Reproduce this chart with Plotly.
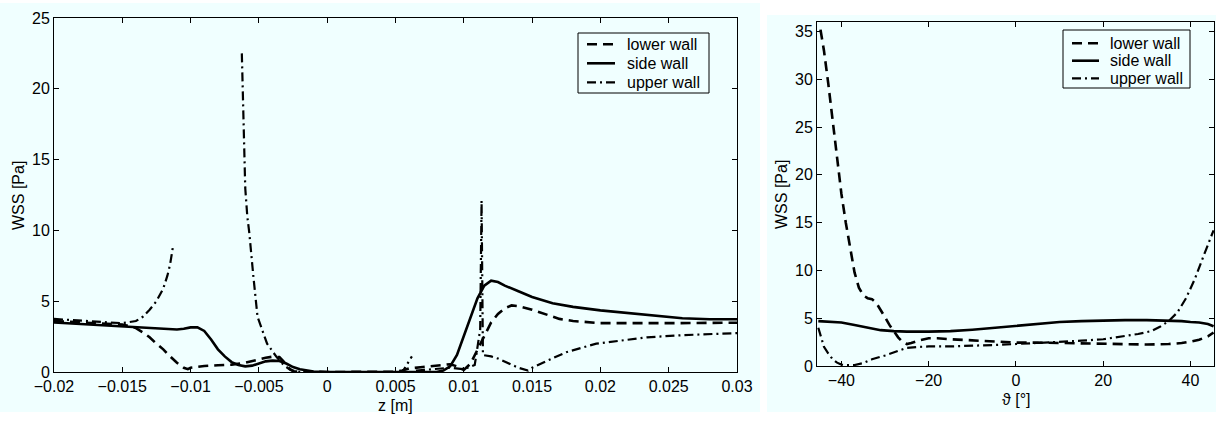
import plotly.graph_objects as go

# ---------------- left panel: WSS along z ----------------
z_lower = [-0.02, -0.018, -0.016, -0.015, -0.0145, -0.014, -0.0135, -0.013, -0.0125, -0.012,
           -0.0115, -0.011, -0.0105, -0.0102, -0.01, -0.0095, -0.009, -0.008, -0.007, -0.006,
           -0.0055, -0.005, -0.0045, -0.004, -0.0035, -0.0032, -0.0029, -0.0025, -0.002, 0.0,
           0.005, 0.0055, 0.006, 0.007, 0.008, 0.009, 0.0095, 0.01, 0.0105, 0.011, 0.0115,
           0.012, 0.0125, 0.013, 0.0135, 0.014, 0.015, 0.016, 0.017, 0.018, 0.019, 0.02,
           0.025, 0.03]
v_lower = [3.6, 3.5, 3.4, 3.35, 3.25, 3.1, 2.8, 2.45, 2.0, 1.6,
           1.1, 0.65, 0.3, 0.2, 0.3, 0.38, 0.42, 0.48, 0.52, 0.65,
           0.78, 0.9, 1.0, 1.08, 1.05, 0.75, 0.35, 0.05, 0.02, 0.0,
           0.02, 0.1, 0.25, 0.35, 0.45, 0.55, 0.4, 0.15, 0.6, 1.6, 2.6,
           3.5, 4.1, 4.5, 4.7, 4.65, 4.4, 4.05, 3.75, 3.6, 3.5, 3.45,
           3.45, 3.48]

z_side = [-0.02, -0.018, -0.016, -0.014, -0.012, -0.011, -0.0105, -0.01, -0.0095, -0.009,
          -0.0085, -0.008, -0.0075, -0.007, -0.0065, -0.006, -0.0055, -0.005, -0.0045, -0.004,
          -0.0035, -0.003, -0.0025, -0.002, -0.0015, -0.001, 0.0, 0.008, 0.0085, 0.009,
          0.0095, 0.01, 0.0105, 0.011, 0.0115, 0.012, 0.0125, 0.013, 0.014, 0.015,
          0.0165, 0.018, 0.02, 0.022, 0.024, 0.026, 0.028, 0.03]
v_side = [3.5, 3.4, 3.3, 3.2, 3.1, 3.0, 3.05, 3.15, 3.15, 2.9,
          2.3, 1.6, 1.1, 0.7, 0.5, 0.4, 0.45, 0.6, 0.75, 0.8,
          0.78, 0.6, 0.35, 0.2, 0.1, 0.04, 0.0, 0.0, 0.1, 0.4,
          1.2, 2.5, 3.9, 5.2, 6.1, 6.45, 6.35, 6.1, 5.7, 5.3,
          4.85, 4.6, 4.35, 4.15, 3.95, 3.8, 3.72, 3.72]

z_upper = [-0.02, -0.018, -0.016, -0.015, -0.0145, -0.014, -0.0135, -0.013, -0.0125, -0.012,
           -0.0117, -0.0115, -0.0113, None,
           -0.00625, -0.006, -0.00585, -0.0057, -0.0054, -0.0051, -0.0044, -0.0037, -0.0032,
           -0.0027, -0.002, 0.0055, 0.0062, None,
           0.0065, 0.008, 0.009, 0.01, 0.0108, 0.0112, 0.0113, 0.0114, 0.012, 0.0125,
           0.013, 0.0135, 0.014, 0.0147, 0.015, 0.016, 0.0175, 0.0197, 0.022, 0.0234,
           0.026, 0.028, 0.03]
v_upper = [3.75, 3.6, 3.5, 3.45, 3.5, 3.6, 3.9, 4.4, 5.0, 5.9,
           6.8, 7.6, 8.8, None,
           22.5, 13.0, 11.0, 9.8, 6.7, 3.9, 2.0, 1.05, 0.5,
           0.15, 0.0, 0.0, 1.1, None,
           0.1, 0.2, 0.3, 0.2, 0.5, 3.0, 12.1, 1.2, 1.1, 0.95,
           0.75, 0.55, 0.3, 0.1, 0.3, 0.75, 1.4, 2.0, 2.3, 2.45,
           2.6, 2.7, 2.75]

# ---------------- right panel: WSS along theta ----------------
t_lower = [-44.8, -44, -43, -42, -41, -40, -39, -38, -37, -36, -35, -34, -33, -32, -31, -30,
           -29, -28, -27, -26, -25, -24, -22, -20, -18, -15, -10, -5, 0, 5, 10, 15, 20, 25,
           30, 35, 38, 40, 42, 44, 45.3]
v2_lower = [35.2, 33.0, 29.5, 25.5, 21.5, 18.0, 15.0, 12.2, 9.8, 8.2, 7.4, 7.1, 7.0, 6.6, 5.9, 5.1,
            4.3, 3.6, 3.0, 2.5, 2.3, 2.4, 2.7, 2.9, 2.9, 2.8, 2.7, 2.55, 2.45, 2.45, 2.4, 2.35, 2.3, 2.25,
            2.25, 2.3, 2.4, 2.55, 2.75, 3.1, 3.5]

t_side = [-45.3, -42, -40, -37, -34, -31, -28, -25, -20, -15, -10, -5, 0, 5, 10, 15, 20, 25,
          30, 35, 38, 40, 42, 44, 45.3]
v2_side = [4.7, 4.65, 4.55, 4.3, 4.0, 3.75, 3.65, 3.6, 3.6, 3.65, 3.8, 4.0, 4.25, 4.45, 4.6, 4.7, 4.78, 4.8,
           4.8, 4.78, 4.7, 4.6, 4.55, 4.4, 4.15]

t_upper = [-45.3, -44.5, -44, -43, -42, -41, -40, -39, -37, -35, -33, -30, -27, -25, -22, -20, -15,
           -10, -5, 0, 5, 10, 15, 20, 25, 28, 31, 33, 35, 37, 39, 41, 43, 45.3]
v2_upper = [4.0, 2.6, 2.0, 1.3, 0.7, 0.35, 0.15, 0.1, 0.1, 0.3, 0.7, 1.1, 1.6, 1.9, 2.0, 2.05, 2.05,
            2.1, 2.2, 2.3, 2.4, 2.5, 2.65, 2.8, 3.1, 3.35, 3.65, 4.1, 4.7, 5.6, 7.1, 9.1, 11.5, 14.2]

names = ["lower wall", "side wall", "upper wall"]

W, H = 1216, 421
BG = "#F0FFFF"
FONT = "Liberation Sans, Arial, sans-serif"
FS = 16

fig = go.Figure()

dash_styles = ["10px,6px", "solid", "9px,4px,2px,4px"]
widths = [2.6, 2.6, 2.2]

left_x = [z_lower, z_side, z_upper]
left_y = [v_lower, v_side, v_upper]
for i in range(3):
    fig.add_trace(go.Scatter(x=left_x[i], y=left_y[i], mode="lines", name=names[i],
                             line=dict(color="black", width=widths[i], dash=dash_styles[i]),
                             xaxis="x", yaxis="y", showlegend=False, connectgaps=False))

right_x = [t_lower, t_side, t_upper]
right_y = [v2_lower, v2_side, v2_upper]
for i in range(3):
    fig.add_trace(go.Scatter(x=right_x[i], y=right_y[i], mode="lines", name=names[i],
                             line=dict(color="black", width=widths[i], dash=dash_styles[i]),
                             xaxis="x2", yaxis="y2", showlegend=False))

def px_x(p):
    return p / W

def px_y(p):
    return 1 - p / H

axis_common = dict(showline=True, linecolor="black", linewidth=1, mirror="ticks",
                   ticks="inside", ticklen=5, tickcolor="black", showgrid=False, zeroline=False,
                   tickfont=dict(family=FONT, size=FS, color="black"), automargin=False)

shapes = [
    dict(type="rect", xref="paper", yref="paper", x0=0, x1=px_x(760), y0=px_y(412), y1=px_y(3),
         fillcolor=BG, line=dict(width=0), layer="below"),
    dict(type="rect", xref="paper", yref="paper", x0=px_x(767), x1=1, y0=px_y(412), y1=px_y(15),
         fillcolor=BG, line=dict(width=0), layer="below"),
]
annotations = [
    dict(text="z [m]", x=px_x(395), y=px_y(405)),
    dict(text="WSS [Pa]", x=px_x(18), y=px_y(196), textangle=-90),
    dict(text="\u03d1 [\u00b0]", x=px_x(1016), y=px_y(399)),
    dict(text="WSS [Pa]", x=px_x(781), y=px_y(195), textangle=-90),
]

# hand-built legend boxes (box, sample x-range, text x, row y's)
legend_specs = [
    dict(box=(578, 709, 33, 93), sx=(587, 615), tx=625, rows=(44.3, 63.3, 82.3)),
    dict(box=(1063, 1190, 30, 88), sx=(1072, 1099), tx=1108, rows=(43.3, 60.7, 78.3)),
]
for spec in legend_specs:
    bx0, bx1, by0, by1 = spec["box"]
    shapes.append(dict(type="rect", xref="paper", yref="paper", x0=px_x(bx0), x1=px_x(bx1),
                       y0=px_y(by1), y1=px_y(by0), fillcolor=BG, line=dict(color="black", width=1),
                       layer="above"))
    for i, ry in enumerate(spec["rows"]):
        shapes.append(dict(type="line", xref="paper", yref="paper", x0=px_x(spec["sx"][0]),
                           x1=px_x(spec["sx"][1]), y0=px_y(ry), y1=px_y(ry), layer="above",
                           line=dict(color="black", width=widths[i], dash=dash_styles[i])))
        annotations.append(dict(text=names[i], x=px_x(spec["tx"]), y=px_y(ry), xanchor="left"))

for a in annotations:
    a.setdefault("xanchor", "center")
    a.update(xref="paper", yref="paper", showarrow=False, yanchor="middle",
             font=dict(family=FONT, size=FS, color="black"))

fig.update_layout(
    width=W, height=H,
    margin=dict(l=0, r=0, t=0, b=0),
    paper_bgcolor="white", plot_bgcolor=BG,
    font=dict(family=FONT, size=FS, color="black"),
    showlegend=False,
    xaxis=dict(domain=[px_x(54), px_x(737)], range=[-0.02, 0.03], tickvals=[-0.02, -0.015, -0.01, -0.005, 0, 0.005, 0.01, 0.015, 0.02, 0.025, 0.03],
               ticktext=["\u22120.02", "\u22120.015", "\u22120.01", "\u22120.005", "0", "0.005", "0.01", "0.015", "0.02", "0.025", "0.03"],
               anchor="y", **axis_common),
    yaxis=dict(domain=[px_y(372), px_y(18)], range=[0, 25], tickvals=[0, 5, 10, 15, 20, 25], anchor="x", **axis_common),
    xaxis2=dict(domain=[px_x(817), px_x(1214)], range=[-45.6, 45.4], tickvals=[-40, -20, 0, 20, 40],
                ticktext=["\u221240", "\u221220", "0", "20", "40"], anchor="y2", **axis_common),
    yaxis2=dict(domain=[px_y(366), px_y(22)], range=[0, 36], tickvals=[0, 5, 10, 15, 20, 25, 30, 35], anchor="x2", **axis_common),
    shapes=shapes,
    annotations=annotations,
)

fig.write_html("out.html", config={"displayModeBar": False},
               post_script="document.body.style.margin='0';document.body.style.overflow='hidden';")
